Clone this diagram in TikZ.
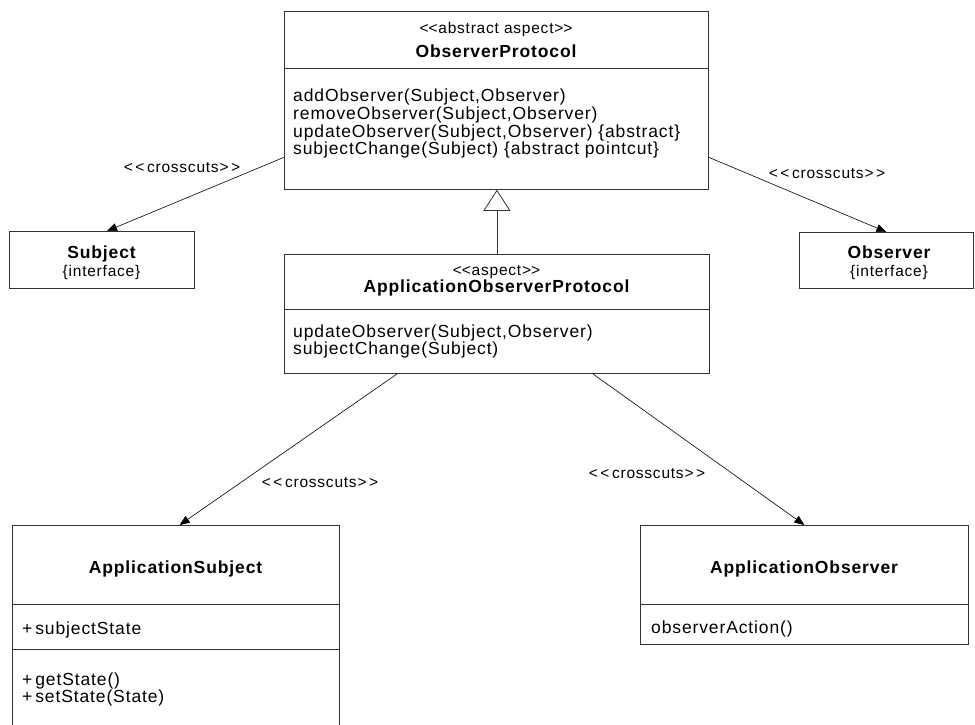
\documentclass[tikz,border=0pt]{standalone}
\usepackage{fontspec}
\setmainfont{Liberation Sans}[LetterSpace=5]
\usetikzlibrary{arrows.meta}

\newcommand\stype[1]{<\kern0pt<#1>\kern0pt>}
\newcommand\ccut{<\,<\,crosscuts>\,>}

\tikzset{
  classbox/.style={draw=black!80, line width=0.8pt, anchor=north west, inner sep=0pt},
  divider/.style={draw=black!80, line width=0.8pt},
  stereo/.style={font=\fontsize{15.5}{15.5}\selectfont, anchor=base, inner sep=0pt},
  classname/.style={font=\bfseries\fontsize{17.5}{17.5}\selectfont, anchor=base, inner sep=0pt},
  member/.style={font=\fontsize{17.5}{17.5}\selectfont, anchor=base west, inner sep=0pt},
  crosscut/.style={-{Triangle[length=10pt,width=8pt]}, black, line width=0.6pt},
  inherit/.style={-{Triangle[open,length=21pt,width=27pt]}, black!80, line width=0.8pt},
}

\begin{document}
\begin{tikzpicture}[x=1pt, y=-1pt]
  \useasboundingbox (0,0) rectangle (975,725);
  \clip (0,0) rectangle (975,725);

  % abstract aspect
  \node[classbox, minimum width=424pt, minimum height=178pt] (op) at (284,11) {};
  \draw[divider] ([yshift=-57pt]op.north west) -- ([yshift=-57pt]op.north east);
  \node[stereo] (op-st) at (496,34) {\stype{abstract aspect}};
  \node[classname] (op-name) at (496,58) {ObserverProtocol};
  \foreach \m [count=\i] in {{addObserver(Subject,Observer)},
      {removeObserver(Subject,Observer)},
      {updateObserver(Subject,Observer) \{abstract\}},
      {subjectChange(Subject) \{abstract pointcut\}}}
    \node[member] (op-m\i) at (293,{84.5+17.5*\i}) {\m};

  % interfaces
  \node[classbox, minimum width=185pt, minimum height=57pt] (subj) at (9,231) {};
  \node[classname] (subj-name) at (101.5,258) {Subject};
  \node[stereo] (subj-tag) at (101.5,276) {\{interface\}};

  \node[classbox, minimum width=174pt, minimum height=56pt] (obs) at (799,232) {};
  \node[classname] (obs-name) at (889,258) {Observer};
  \node[stereo] (obs-tag) at (889,276) {\{interface\}};

  % concrete aspect
  \node[classbox, minimum width=425pt, minimum height=119pt] (aop) at (284,254) {};
  \draw[divider] ([yshift=-55pt]aop.north west) -- ([yshift=-55pt]aop.north east);
  \node[stereo] (aop-st) at (496.5,275) {\stype{aspect}};
  \node[classname] (aop-name) at (496.5,292) {ApplicationObserverProtocol};
  \node[member] (aop-m1) at (293,337) {updateObserver(Subject,Observer)};
  \node[member] (aop-m2) at (293,354.5) {subjectChange(Subject)};

  % application classes
  \node[classbox, minimum width=327pt, minimum height=212pt] (asubj) at (12,525) {};
  \draw[divider] ([yshift=-79pt]asubj.north west) -- ([yshift=-79pt]asubj.north east);
  \draw[divider] ([yshift=-124pt]asubj.north west) -- ([yshift=-124pt]asubj.north east);
  \node[classname] (asubj-name) at (175.5,573) {ApplicationSubject};
  \node[member] (asubj-a1) at (22,634) {+\,subjectState};
  \node[member] (asubj-m1) at (22,685) {+\,getState()};
  \node[member] (asubj-m2) at (22,702.5) {+\,setState(State)};

  \node[classbox, minimum width=328pt, minimum height=119pt] (aobs) at (640,525) {};
  \draw[divider] ([yshift=-79pt]aobs.north west) -- ([yshift=-79pt]aobs.north east);
  \node[classname] (aobs-name) at (804,573) {ApplicationObserver};
  \node[member] (aobs-m1) at (651,633) {observerAction()};

  % connectors
  \draw[inherit] (aop.north) -- (aop.north |- op.south);
  \draw[crosscut] (op.195) -- (subj.80);
  \draw[crosscut] (op.345) -- (obs.north);
  \draw[crosscut] (aop.211.5) -- (asubj.88);
  \draw[crosscut] (aop.328) -- (aobs.north);

  \node[stereo] (cc1) at (182,172) {\ccut};
  \node[stereo] (cc2) at (827,178) {\ccut};
  \node[stereo] (cc3) at (320,487) {\ccut};
  \node[stereo] (cc4) at (647,478) {\ccut};
\end{tikzpicture}
\end{document}
